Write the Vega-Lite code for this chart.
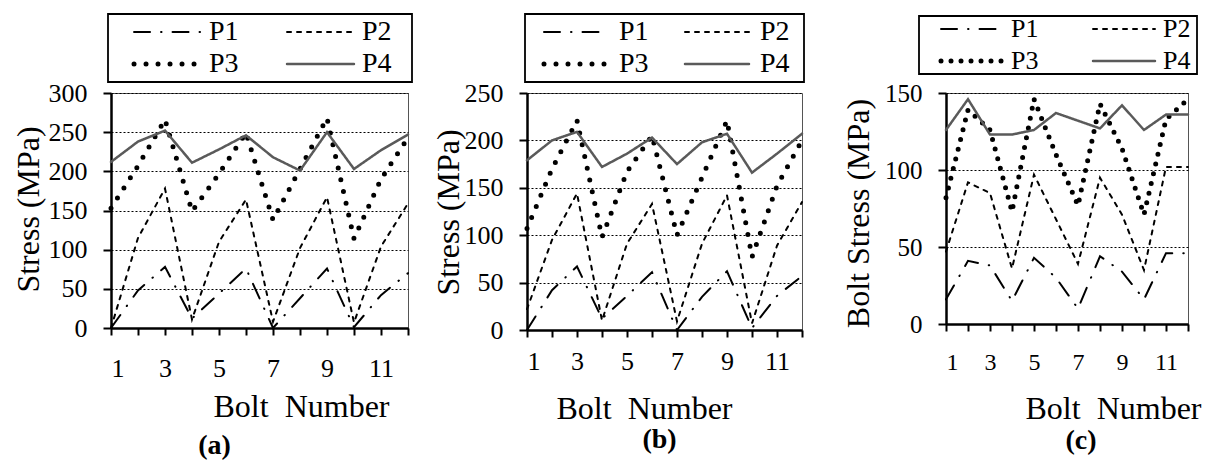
{
  "$schema": "https://vega.github.io/schema/vega-lite/v6.json",
  "background": "white",
  "padding": {"left": 11, "top": 12, "right": 5, "bottom": 0},
  "spacing": 0,
  "bounds": "flush",
  "resolve": {"scale": {"color": "independent", "strokeDash": "independent", "strokeWidth": "independent"}, "legend": {"color": "independent", "strokeDash": "independent", "strokeWidth": "independent"}},
  "config": {
    "font": "Liberation Serif",
    "view": {"stroke": "#555", "strokeWidth": 1},
    "axis": {
      "labelFont": "Liberation Serif", "labelFontSize": 26, "labelColor": "black",
      "titleFont": "Liberation Serif", "titleFontSize": 32, "titleFontWeight": "normal", "titleColor": "black",
      "domainColor": "black", "domainWidth": 2.5, "tickColor": "black", "tickWidth": 2, "tickSize": 8
    },
    "axisY": {"grid": true, "gridColor": "black", "gridDash": [2, 2], "gridWidth": 1, "labelPadding": 16, "titleAngle": 270, "titleBaseline": "alphabetic", "titleAlign": "center"},
    "axisX": {"grid": false, "tickSize": 7, "titleBaseline": "alphabetic", "titleAlign": "center"},
    "legend": {"labelFont": "Liberation Serif", "labelColor": "black", "strokeColor": "black", "fillColor": "white", "cornerRadius": 0, "symbolStrokeWidth": 2.5}
  },
  "datasets": {
    "a": [
      {"bolt":1,"series":"P1","stress":0},{"bolt":2,"series":"P1","stress":48},{"bolt":3,"series":"P1","stress":78},{"bolt":4,"series":"P1","stress":12},{"bolt":5,"series":"P1","stress":44},{"bolt":6,"series":"P1","stress":76},{"bolt":7,"series":"P1","stress":0},{"bolt":8,"series":"P1","stress":38},{"bolt":9,"series":"P1","stress":76},{"bolt":10,"series":"P1","stress":1},{"bolt":11,"series":"P1","stress":42},{"bolt":12,"series":"P1","stress":70},
      {"bolt":1,"series":"P2","stress":0},{"bolt":2,"series":"P2","stress":115},{"bolt":3,"series":"P2","stress":178},{"bolt":4,"series":"P2","stress":11},{"bolt":5,"series":"P2","stress":110},{"bolt":6,"series":"P2","stress":164},{"bolt":7,"series":"P2","stress":8},{"bolt":8,"series":"P2","stress":102},{"bolt":9,"series":"P2","stress":167},{"bolt":10,"series":"P2","stress":7},{"bolt":11,"series":"P2","stress":104},{"bolt":12,"series":"P2","stress":159},
      {"bolt":1,"series":"P3","stress":153},{"bolt":2,"series":"P3","stress":207},{"bolt":3,"series":"P3","stress":266},{"bolt":4,"series":"P3","stress":149},{"bolt":5,"series":"P3","stress":197},{"bolt":6,"series":"P3","stress":249},{"bolt":7,"series":"P3","stress":138},{"bolt":8,"series":"P3","stress":203},{"bolt":9,"series":"P3","stress":268},{"bolt":10,"series":"P3","stress":114},{"bolt":11,"series":"P3","stress":190},{"bolt":12,"series":"P3","stress":243},
      {"bolt":1,"series":"P4","stress":212},{"bolt":2,"series":"P4","stress":238},{"bolt":3,"series":"P4","stress":252},{"bolt":4,"series":"P4","stress":211},{"bolt":5,"series":"P4","stress":228},{"bolt":6,"series":"P4","stress":246},{"bolt":7,"series":"P4","stress":218},{"bolt":8,"series":"P4","stress":201},{"bolt":9,"series":"P4","stress":250},{"bolt":10,"series":"P4","stress":203},{"bolt":11,"series":"P4","stress":227},{"bolt":12,"series":"P4","stress":247}
    ],
    "b": [
      {"bolt":1,"series":"P1","stress":0},{"bolt":2,"series":"P1","stress":42},{"bolt":3,"series":"P1","stress":67},{"bolt":4,"series":"P1","stress":12},{"bolt":5,"series":"P1","stress":36},{"bolt":6,"series":"P1","stress":61},{"bolt":7,"series":"P1","stress":0},{"bolt":8,"series":"P1","stress":35},{"bolt":9,"series":"P1","stress":62},{"bolt":10,"series":"P1","stress":2},{"bolt":11,"series":"P1","stress":36},{"bolt":12,"series":"P1","stress":57},
      {"bolt":1,"series":"P2","stress":22},{"bolt":2,"series":"P2","stress":95},{"bolt":3,"series":"P2","stress":144},{"bolt":4,"series":"P2","stress":10},{"bolt":5,"series":"P2","stress":91},{"bolt":6,"series":"P2","stress":133},{"bolt":7,"series":"P2","stress":9},{"bolt":8,"series":"P2","stress":91},{"bolt":9,"series":"P2","stress":142},{"bolt":10,"series":"P2","stress":7},{"bolt":11,"series":"P2","stress":89},{"bolt":12,"series":"P2","stress":135},
      {"bolt":1,"series":"P3","stress":107},{"bolt":2,"series":"P3","stress":170},{"bolt":3,"series":"P3","stress":221},{"bolt":4,"series":"P3","stress":98},{"bolt":5,"series":"P3","stress":167},{"bolt":6,"series":"P3","stress":205},{"bolt":7,"series":"P3","stress":100},{"bolt":8,"series":"P3","stress":161},{"bolt":9,"series":"P3","stress":221},{"bolt":10,"series":"P3","stress":77},{"bolt":11,"series":"P3","stress":152},{"bolt":12,"series":"P3","stress":200},
      {"bolt":1,"series":"P4","stress":179},{"bolt":2,"series":"P4","stress":200},{"bolt":3,"series":"P4","stress":209},{"bolt":4,"series":"P4","stress":172},{"bolt":5,"series":"P4","stress":186},{"bolt":6,"series":"P4","stress":203},{"bolt":7,"series":"P4","stress":175},{"bolt":8,"series":"P4","stress":198},{"bolt":9,"series":"P4","stress":207},{"bolt":10,"series":"P4","stress":166},{"bolt":11,"series":"P4","stress":186},{"bolt":12,"series":"P4","stress":207}
    ],
    "c": [
      {"bolt":1,"series":"P1","stress":16},{"bolt":2,"series":"P1","stress":41},{"bolt":3,"series":"P1","stress":38},{"bolt":4,"series":"P1","stress":15},{"bolt":5,"series":"P1","stress":43},{"bolt":6,"series":"P1","stress":30},{"bolt":7,"series":"P1","stress":10},{"bolt":8,"series":"P1","stress":44},{"bolt":9,"series":"P1","stress":34},{"bolt":10,"series":"P1","stress":16},{"bolt":11,"series":"P1","stress":46},{"bolt":12,"series":"P1","stress":46},
      {"bolt":1,"series":"P2","stress":47},{"bolt":2,"series":"P2","stress":92},{"bolt":3,"series":"P2","stress":85},{"bolt":4,"series":"P2","stress":36},{"bolt":5,"series":"P2","stress":97},{"bolt":6,"series":"P2","stress":68},{"bolt":7,"series":"P2","stress":39},{"bolt":8,"series":"P2","stress":95},{"bolt":9,"series":"P2","stress":71},{"bolt":10,"series":"P2","stress":35},{"bolt":11,"series":"P2","stress":102},{"bolt":12,"series":"P2","stress":102},
      {"bolt":1,"series":"P3","stress":82},{"bolt":2,"series":"P3","stress":139},{"bolt":3,"series":"P3","stress":126},{"bolt":4,"series":"P3","stress":73},{"bolt":5,"series":"P3","stress":146},{"bolt":6,"series":"P3","stress":110},{"bolt":7,"series":"P3","stress":77},{"bolt":8,"series":"P3","stress":143},{"bolt":9,"series":"P3","stress":114},{"bolt":10,"series":"P3","stress":71},{"bolt":11,"series":"P3","stress":133},{"bolt":12,"series":"P3","stress":146},
      {"bolt":1,"series":"P4","stress":126},{"bolt":2,"series":"P4","stress":146},{"bolt":3,"series":"P4","stress":123},{"bolt":4,"series":"P4","stress":123},{"bolt":5,"series":"P4","stress":126},{"bolt":6,"series":"P4","stress":137},{"bolt":7,"series":"P4","stress":132},{"bolt":8,"series":"P4","stress":127},{"bolt":9,"series":"P4","stress":142},{"bolt":10,"series":"P4","stress":126},{"bolt":11,"series":"P4","stress":136},{"bolt":12,"series":"P4","stress":136}
    ]
  },
  "hconcat": [
    {
      "width": 297, "height": 235,
      "data": {"name": "a"},
      "title": {"text": "(a)", "orient": "bottom", "anchor": "middle", "dx": -45, "offset": 10, "fontSize": 28, "fontWeight": "bold", "font": "Liberation Serif", "color": "black"},
      "mark": {"type": "line", "strokeCap": "round"},
      "encoding": {
        "x": {"field": "bolt", "type": "quantitative", "scale": {"domain": [1, 12], "nice": false, "zero": false},
          "axis": {"values": [1,2,3,4,5,6,7,8,9,10,11,12], "labelExpr": "datum.value % 2 == 1 ? datum.label : ''", "labelPadding": 20, "title": "Bolt\u00a0 Number", "titleX": 190, "titleY": 88}},
        "y": {"field": "stress", "type": "quantitative", "scale": {"domain": [0, 300], "nice": false},
          "axis": {"values": [0,50,100,150,200,250,300], "title": "Stress (MPa)", "titleX": -73, "titleY": 116}},
        "color": {"field": "series", "type": "nominal", "scale": {"domain": ["P1","P2","P3","P4"], "range": ["#000000","#000000","#000000","#5a5a5a"]},
          "legend": {"title": null, "orient": "none", "direction": "horizontal", "legendX": -3, "legendY": -79, "columns": 2, "padding": 4, "rowPadding": 4, "columnPadding": 5,
            "symbolType": "M-4,0H4M9.86,0", "symbolSize": 280, "symbolOffset": 41.5, "labelOffset": 27.5, "labelFontSize": 28, "labelBaseline": "middle",
            "encoding": {"symbols": {"strokeCap": {"value": "round"}}, "legend": {"strokeWidth": {"value": 1.8}}}}},
        "strokeDash": {"field": "series", "type": "nominal", "scale": {"domain": ["P1","P2","P3","P4"], "range": [[16,11,0.5,11],[4,6],[0,12],[1,0]]}},
        "strokeWidth": {"field": "series", "type": "nominal", "scale": {"type": "ordinal", "domain": ["P1","P2","P3","P4"], "range": [2,2,5,2.5]}}
      }
    },
    {"width": 119, "height": 10, "data": {"values": []}, "mark": "point", "view": {"stroke": null}},
    {
      "width": 275, "height": 237,
      "data": {"name": "b"},
      "title": {"text": "(b)", "orient": "bottom", "anchor": "middle", "dx": -5, "offset": 2, "fontSize": 28, "fontWeight": "bold", "font": "Liberation Serif", "color": "black"},
      "mark": {"type": "line", "strokeCap": "round"},
      "encoding": {
        "x": {"field": "bolt", "type": "quantitative", "scale": {"domain": [1, 12], "nice": false, "zero": false},
          "axis": {"values": [1,2,3,4,5,6,7,8,9,10,11,12], "labelExpr": "datum.value % 2 == 1 ? datum.label : ''", "labelPadding": 11, "title": "Bolt\u00a0 Number", "titleX": 117, "titleY": 88}},
        "y": {"field": "stress", "type": "quantitative", "scale": {"domain": [0, 250], "nice": false},
          "axis": {"values": [0,50,100,150,200,250], "title": "Stress (MPa)", "titleX": -69, "titleY": 119}},
        "color": {"field": "series", "type": "nominal", "scale": {"domain": ["P1","P2","P3","P4"], "range": ["#000000","#000000","#000000","#5a5a5a"]},
          "legend": {"title": null, "orient": "none", "direction": "horizontal", "legendX": -2, "legendY": -79, "columns": 2, "padding": 4, "rowPadding": 4, "columnPadding": 6,
            "symbolType": "M-4,0H4M9.7,0", "symbolSize": 256, "symbolOffset": 33, "labelOffset": 29, "labelFontSize": 28, "labelBaseline": "middle",
            "encoding": {"symbols": {"strokeCap": {"value": "round"}}, "legend": {"strokeWidth": {"value": 1.8}}}}},
        "strokeDash": {"field": "series", "type": "nominal", "scale": {"domain": ["P1","P2","P3","P4"], "range": [[16,11,0.5,11],[4,6],[0,12],[1,0]]}},
        "strokeWidth": {"field": "series", "type": "nominal", "scale": {"type": "ordinal", "domain": ["P1","P2","P3","P4"], "range": [2,2,5,2.5]}}
      }
    },
    {"width": 144, "height": 10, "data": {"values": []}, "mark": "point", "view": {"stroke": null}},
    {
      "width": 242, "height": 231,
      "data": {"name": "c"},
      "title": {"text": "(c)", "orient": "bottom", "anchor": "middle", "dx": 14, "offset": 3, "fontSize": 28, "fontWeight": "bold", "font": "Liberation Serif", "color": "black"},
      "mark": {"type": "line", "strokeCap": "round"},
      "encoding": {
        "x": {"field": "bolt", "type": "quantitative", "scale": {"domain": [1, 12], "nice": false, "zero": false},
          "axis": {"values": [1,2,3,4,5,6,7,8,9,10,11,12], "labelExpr": "datum.value % 2 == 1 ? datum.label : ''", "labelPadding": 19, "labelFontSize": 24, "title": "Bolt\u00a0 Number", "titleX": 167, "titleY": 94}},
        "y": {"field": "stress", "type": "quantitative", "scale": {"domain": [0, 150], "nice": false},
          "axis": {"values": [0,50,100,150], "labelFontSize": 25, "title": "Bolt Stress (MPa)", "titleX": -78, "titleY": 120}},
        "color": {"field": "series", "type": "nominal", "scale": {"domain": ["P1","P2","P3","P4"], "range": ["#000000","#000000","#000000","#5a5a5a"]},
          "legend": {"title": null, "orient": "none", "direction": "horizontal", "legendX": -27, "legendY": -77, "columns": 2, "padding": 0, "rowPadding": 6, "columnPadding": 21,
            "symbolType": "M-4,0H4M8.65,0", "symbolSize": 240, "symbolOffset": 40, "labelOffset": 26, "labelFontSize": 26, "labelBaseline": "middle",
            "encoding": {"symbols": {"strokeCap": {"value": "round"}}, "legend": {"strokeWidth": {"value": 1.8}}}}},
        "strokeDash": {"field": "series", "type": "nominal", "scale": {"domain": ["P1","P2","P3","P4"], "range": [[16,11,0.5,11],[4,6],[0,10],[1,0]]}},
        "strokeWidth": {"field": "series", "type": "nominal", "scale": {"type": "ordinal", "domain": ["P1","P2","P3","P4"], "range": [2,2,5,2.5]}}
      }
    }
  ]
}
